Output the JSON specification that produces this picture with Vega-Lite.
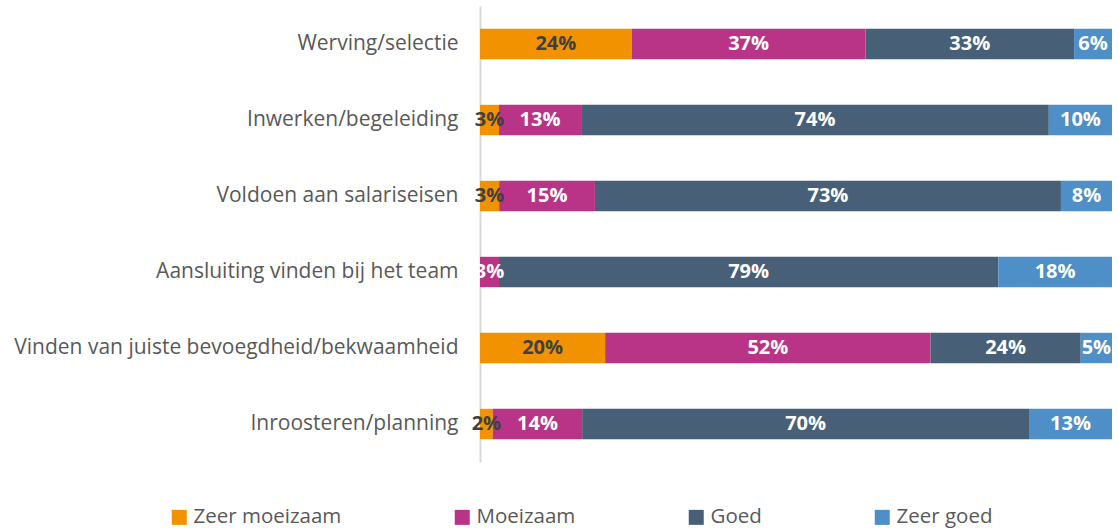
{
  "$schema": "https://vega.github.io/schema/vega-lite/v6.json",
  "width": 632,
  "height": 456,
  "autosize": {"type": "none"},
  "padding": {"left": 480, "top": 6, "right": 6, "bottom": 66},
  "background": "white",
  "config": {"view": {"stroke": null}, "font": "Open Sans"},
  "data": {
    "values": [
      {"item": "Werving/selectie", "cat": "Zeer moeizaam", "k": 1, "v": 0.24},
      {"item": "Werving/selectie", "cat": "Moeizaam", "k": 2, "v": 0.37},
      {"item": "Werving/selectie", "cat": "Goed", "k": 3, "v": 0.33},
      {"item": "Werving/selectie", "cat": "Zeer goed", "k": 4, "v": 0.06},
      {"item": "Inwerken/begeleiding", "cat": "Zeer moeizaam", "k": 1, "v": 0.03},
      {"item": "Inwerken/begeleiding", "cat": "Moeizaam", "k": 2, "v": 0.13},
      {"item": "Inwerken/begeleiding", "cat": "Goed", "k": 3, "v": 0.74},
      {"item": "Inwerken/begeleiding", "cat": "Zeer goed", "k": 4, "v": 0.10},
      {"item": "Voldoen aan salariseisen", "cat": "Zeer moeizaam", "k": 1, "v": 0.03},
      {"item": "Voldoen aan salariseisen", "cat": "Moeizaam", "k": 2, "v": 0.15},
      {"item": "Voldoen aan salariseisen", "cat": "Goed", "k": 3, "v": 0.73},
      {"item": "Voldoen aan salariseisen", "cat": "Zeer goed", "k": 4, "v": 0.08},
      {"item": "Aansluiting vinden bij het team", "cat": "Moeizaam", "k": 2, "v": 0.03},
      {"item": "Aansluiting vinden bij het team", "cat": "Goed", "k": 3, "v": 0.79},
      {"item": "Aansluiting vinden bij het team", "cat": "Zeer goed", "k": 4, "v": 0.18},
      {"item": "Vinden van juiste bevoegdheid/bekwaamheid", "cat": "Zeer moeizaam", "k": 1, "v": 0.20},
      {"item": "Vinden van juiste bevoegdheid/bekwaamheid", "cat": "Moeizaam", "k": 2, "v": 0.52},
      {"item": "Vinden van juiste bevoegdheid/bekwaamheid", "cat": "Goed", "k": 3, "v": 0.24},
      {"item": "Vinden van juiste bevoegdheid/bekwaamheid", "cat": "Zeer goed", "k": 4, "v": 0.05},
      {"item": "Inroosteren/planning", "cat": "Zeer moeizaam", "k": 1, "v": 0.02},
      {"item": "Inroosteren/planning", "cat": "Moeizaam", "k": 2, "v": 0.14},
      {"item": "Inroosteren/planning", "cat": "Goed", "k": 3, "v": 0.70},
      {"item": "Inroosteren/planning", "cat": "Zeer goed", "k": 4, "v": 0.13}
    ]
  },
  "encoding": {
    "y": {
      "field": "item",
      "type": "nominal",
      "sort": null,
      "scale": {"paddingInner": 0.6, "paddingOuter": 0.3},
      "axis": {
        "title": null,
        "ticks": false,
        "labelFontSize": 21,
        "labelColor": "#595959",
        "labelPadding": 22,
        "labelLimit": 600,
        "domainColor": "#d9d9d9",
        "domainWidth": 2
      }
    },
    "x": {
      "field": "v",
      "type": "quantitative",
      "stack": "normalize",
      "scale": {"domain": [0, 1]},
      "axis": null
    },
    "order": {"field": "k", "type": "quantitative"}
  },
  "layer": [
    {
      "mark": {"type": "bar"},
      "encoding": {
        "color": {
          "field": "cat",
          "type": "nominal",
          "scale": {
            "domain": ["Zeer moeizaam", "Moeizaam", "Goed", "Zeer goed"],
            "range": ["#f39200", "#b93386", "#475f77", "#4d8fc6"]
          },
          "legend": {
            "title": null,
            "orient": "none",
            "direction": "horizontal",
            "legendX": -311,
            "legendY": 501,
            "symbolType": "square",
            "symbolSize": 225,
            "symbolStrokeWidth": 0,
            "labelFontSize": 20.5,
            "labelColor": "#595959",
            "labelOffset": 4,
            "columnPadding": 110,
            "labelLimit": 300
          }
        }
      }
    },
    {
      "mark": {"type": "text", "fontSize": 20, "fontWeight": "bold", "align": "center", "baseline": "middle"},
      "encoding": {
        "x": {"field": "v", "type": "quantitative", "stack": "normalize", "bandPosition": 0.5},
        "text": {"field": "v", "type": "quantitative", "format": ".0%"},
        "color": {
          "condition": {"test": "datum.cat === 'Zeer moeizaam'", "value": "#404040"},
          "value": "white"
        }
      }
    }
  ]
}
